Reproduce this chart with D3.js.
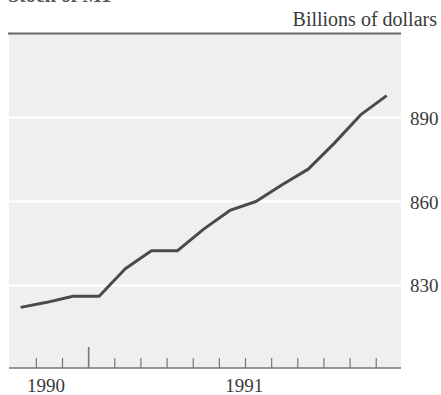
<!DOCTYPE html>
<html>
<head>
<meta charset="utf-8">
<script src="https://cdn.jsdelivr.net/npm/d3@7"></script>
<style>
  html, body { margin: 0; padding: 0; background: #ffffff; }
  svg { display: block; }
  text { font-family: "Liberation Serif", "Times New Roman", serif; fill: #3a3a3a; }
</style>
</head>
<body>
<svg id="chart" width="441" height="395"></svg>
<script>
// Stock of M1, billions of dollars, 15 consecutive observations
const obsIndex = [0, 1, 2, 3, 4, 5, 6, 7, 8, 9, 10, 11, 12, 13, 14];
const m1Values = [822.1, 823.9, 826.1, 826.1, 835.9, 842.4, 842.4, 850.1, 856.8, 860.0, 866.0, 871.6, 880.9, 891.0, 897.9];

// Axis ticks (in observation-index units) and labels
const tickPositions = [0.58, 1.58, 2.58, 3.58, 4.58, 5.58, 6.58, 7.58, 8.58, 9.58, 10.58, 11.58, 12.58, 13.58];
const majorTick = 2.58;
const yearLabels = ["1990", "1991"];
const yearPositions = [0.97, 8.55];
const yTicks = [830, 860, 890];

const svg = d3.select("#chart");

const panel = { left: 9, right: 401, top: 34, bottom: 368 };

const x = d3.scaleLinear().domain([0, 14]).range([20.7, 386.7]);
const y = d3.scaleLinear().domain([830, 890]).range([285.3, 117.7]);

// Title running off the top edge
svg.append("text")
  .attr("x", 8).attr("y", 2)
  .style("font-size", "20px").style("font-weight", "bold")
  .style("fill", "#555")
  .text("Stock of M1");

// Units label
svg.append("text")
  .attr("x", 437).attr("y", 26)
  .attr("text-anchor", "end")
  .style("font-size", "20px")
  .text("Billions of dollars");

// Gray plotting panel
svg.append("rect")
  .attr("x", panel.left).attr("y", panel.top)
  .attr("width", panel.right - panel.left)
  .attr("height", panel.bottom - panel.top)
  .attr("fill", "#efefef");

// Top rule
svg.append("line")
  .attr("x1", panel.left - 1).attr("x2", panel.right)
  .attr("y1", panel.top - 0.5).attr("y2", panel.top - 0.5)
  .attr("stroke", "#666").attr("stroke-width", 2);

// White gridlines
svg.append("g").selectAll("line").data(yTicks).join("line")
  .attr("x1", panel.left).attr("x2", panel.right)
  .attr("y1", d => y(d)).attr("y2", d => y(d))
  .attr("stroke", "#ffffff").attr("stroke-width", 2.2);

// Right-side value labels
svg.append("g").selectAll("text").data(yTicks).join("text")
  .attr("x", 410).attr("y", d => y(d) + 7)
  .style("font-size", "19px")
  .text(d => d);

// Bottom axis with minor and major ticks
const xAxis = d3.axisBottom(x)
  .tickValues(tickPositions)
  .tickSize(0)
  .tickFormat("");
const axisG = svg.append("g")
  .attr("transform", `translate(0,${panel.bottom})`)
  .call(xAxis);
axisG.select(".domain").remove();
axisG.append("line")
  .attr("x1", panel.left).attr("x2", panel.right)
  .attr("y1", 0).attr("y2", 0)
  .attr("stroke", "#777").attr("stroke-width", 1.5);
axisG.selectAll(".tick").append("line")
  .attr("y1", 0)
  .attr("y2", d => d === majorTick ? -21 : -10)
  .attr("stroke", "#777")
  .attr("stroke-width", d => d === majorTick ? 1.6 : 1.2);

// Year labels
svg.append("g").selectAll("text").data(yearLabels).join("text")
  .attr("x", (d, i) => x(yearPositions[i]))
  .attr("y", 392)
  .attr("text-anchor", "middle")
  .style("font-size", "19px")
  .text(d => d);

// M1 line
const line = d3.line()
  .x((d, i) => x(obsIndex[i]))
  .y(d => y(d));
svg.append("path")
  .datum(m1Values)
  .attr("d", line)
  .attr("fill", "none")
  .attr("stroke", "#4a4a4a")
  .attr("stroke-width", 3)
  .attr("stroke-linejoin", "round");
</script>
</body>
</html>
